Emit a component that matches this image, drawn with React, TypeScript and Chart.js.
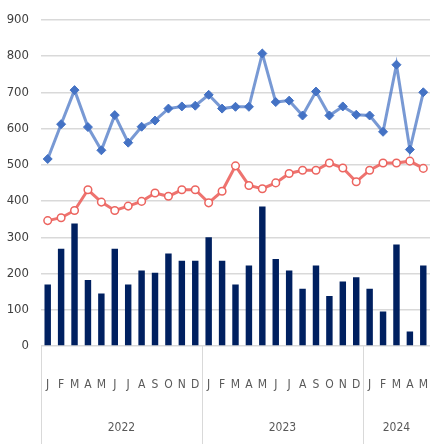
import React, { useEffect, useRef } from "react";
import { Chart, registerables } from "chart.js";

Chart.register(...registerables);

const monthLetters = ["J", "F", "M", "A", "M", "J", "J", "A", "S", "O", "N", "D"];
const categories: string[] = [
  ...monthLetters,
  ...monthLetters,
  ...monthLetters.slice(0, 5),
];
const yearGroups = [
  { label: "2022", count: 12 },
  { label: "2023", count: 12 },
  { label: "2024", count: 5 },
];

const barValues = [
  170, 268, 338, 182, 145, 268, 170, 208, 202, 255, 235, 235,
  300, 235, 170, 222, 385, 240, 208, 158, 222, 138, 178, 190,
  158, 95, 280, 40, 222,
];
const blueValues = [
  516, 612, 706, 604, 540, 637, 561, 605, 622, 655, 661, 663,
  693, 655, 660, 660, 807, 673, 677, 636, 702, 636, 661, 638,
  636, 591, 776, 542, 700,
];
const redValues = [
  346, 354, 374, 431, 397, 374, 386, 399, 422, 413, 431, 431,
  395, 427, 497, 443, 434, 450, 476, 485, 485, 505, 491, 453,
  485, 505, 505, 510, 490,
];

const yTicks = [0, 100, 200, 300, 400, 500, 600, 700, 800, 900];

const FONT = "'DejaVu Sans Condensed', 'Liberation Sans Narrow', 'Liberation Sans', Arial, sans-serif";

const yearPlugin = {
  id: "yearGroups",
  afterDraw(chart: any) {
    const { ctx, scales, chartArea } = chart;
    const x = scales.x;
    const top = chartArea.bottom;
    const bottom = chart.height;
    const half = (x.getPixelForValue(1) - x.getPixelForValue(0)) / 2;
    ctx.save();
    ctx.strokeStyle = "#d9d9d9";
    ctx.lineWidth = 1;
    let start = 0;
    const boundaries: number[] = [x.getPixelForValue(0) - half];
    yearGroups.forEach((g) => {
      const end = start + g.count - 1;
      boundaries.push(x.getPixelForValue(end) + half);
      start += g.count;
    });
    boundaries.slice(0, boundaries.length - 1).forEach((bx) => {
      const px = Math.round(bx) + 0.5;
      ctx.beginPath();
      ctx.moveTo(px, top);
      ctx.lineTo(px, bottom);
      ctx.stroke();
    });
    ctx.fillStyle = "#595959";
    ctx.font = `12px ${FONT}`;
    ctx.textAlign = "center";
    ctx.textBaseline = "middle";
    yearGroups.forEach((g, i) => {
      const cx = (boundaries[i] + Math.min(boundaries[i + 1], chart.width)) / 2;
      ctx.fillText(g.label, cx, 428);
    });
    ctx.restore();
  },
};

export default function App() {
  const ref = useRef<HTMLCanvasElement>(null);
  useEffect(() => {
    document.body.style.margin = "0";
    const chart = new Chart(ref.current!, {
      type: "bar",
      data: {
        labels: categories,
        datasets: [
          {
            type: "line",
            data: blueValues,
            borderColor: "rgba(68,114,196,0.72)",
            borderWidth: 3,
            pointStyle: "rectRot",
            pointRadius: 4.5,
            pointBackgroundColor: "#4472C4",
            pointBorderColor: "#4472C4",
            pointBorderWidth: 1,
            tension: 0,
            clip: false,
            order: 1,
          },
          {
            type: "line",
            data: redValues,
            borderColor: "rgba(236,100,95,0.9)",
            borderWidth: 3,
            pointStyle: "circle",
            pointRadius: 3.8,
            pointBackgroundColor: "#ffffff",
            pointBorderColor: "#EC645F",
            pointBorderWidth: 1.5,
            tension: 0,
            clip: false,
            order: 2,
          },
          {
            type: "bar",
            data: barValues,
            backgroundColor: "#002060",
            categoryPercentage: 1,
            barPercentage: 0.48,
            order: 3,
          },
        ],
      },
      options: {
        responsive: false,
        animation: false,
        layout: { autoPadding: false, padding: { top: 19, left: 0, right: 0, bottom: 0 } },
        plugins: { legend: { display: false }, tooltip: { enabled: false } },
        scales: {
          x: {
            offset: true,
            grid: { display: false, drawTicks: true, tickLength: 30 },
            border: { display: false },
            ticks: {
              color: "#595959",
              font: { family: FONT, size: 12 },
              padding: 2,
              maxRotation: 0,
              autoSkip: false,
            },
            afterFit(scale: any) {
              scale.height = 98;
              scale.paddingLeft = 0;
              scale.paddingRight = 0;
            },
          },
          y: {
            min: 0,
            max: 900,
            afterBuildTicks(scale: any) {
              scale.ticks = yTicks.map((v) => ({ value: v }));
            },
            grid: { color: "#d9d9d9", lineWidth: 1.5, drawTicks: false },
            border: { display: false },
            ticks: {
              color: "#404040",
              font: { family: FONT, size: 13 },
              padding: 12,
            },
            afterFit(scale: any) {
              scale.width = 41;
            },
          },
        },
      },
      plugins: [yearPlugin],
    } as any);
    return () => chart.destroy();
  }, []);
  return <canvas ref={ref} width={430} height={444} style={{ display: "block" }} />;
}
